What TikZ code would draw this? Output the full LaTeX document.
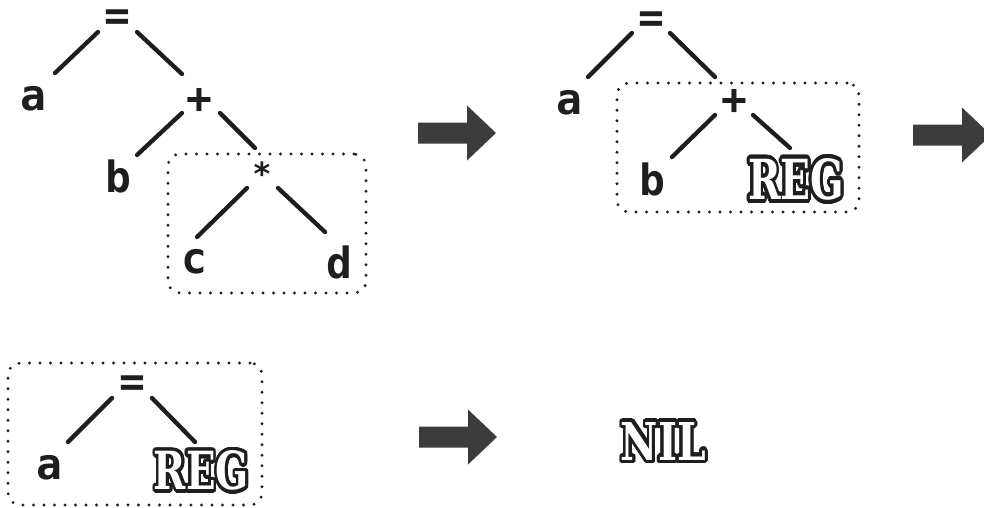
\documentclass[tikz,border=0pt]{standalone}
\usepackage{fontspec}
\usepackage{graphicx}
\usepackage{contour}
\usetikzlibrary{calc}

\newfontfamily\treefont{DejaVu Sans Mono}
\newfontfamily\signfont{DejaVu Serif}

\definecolor{ink}{HTML}{1E1E1E}
\definecolor{arrowgray}{HTML}{3C3C3C}

\contourlength{0.7pt}
\contournumber{24}
% outlined poster-style word squeezed into a fixed box
\newcommand\signword[3]{\resizebox{#1}{#2}{\signfont\bfseries\textcolor{white}{\contour{ink}{#3}}}}

\begin{document}
\begin{tikzpicture}[x=1pt,y=-1pt,
  lbl/.style={inner sep=0pt, text=ink, font=\treefont\bfseries\fontsize{43}{43}\selectfont},
  smalllbl/.style={lbl, font=\treefont\bfseries\fontsize{32}{32}\selectfont},
  sign/.style={inner sep=0pt},
  branch/.style={draw=ink, line width=4.3pt, line cap=round},
  group/.style={draw=ink, line width=3.2pt, line cap=round,
                dash pattern=on 0pt off 10.5pt, rounded corners=12pt, inner sep=0pt},
  bigarrow/.style={fill=arrowgray}
]
\useasboundingbox (0,0) rectangle (984,508);
\clip (0,0) rectangle (984,508);
\fill[white] (0,0) rectangle (984,508);

% ---- stage 1: a = b + c * d
\node[lbl] (eq1)   at (117,20)  {=};
\node[lbl] (a1)    at (33,99)   {a};
\node[lbl] (plus1) at (199,101) {+};
\node[lbl] (b1)    at (118,176) {b};
\node[smalllbl] (star1) at (262,174) {*};
\node[lbl] (c1)    at (194,262) {c};
\node[lbl] (d1)    at (339,262) {d};

\draw[branch] ($(eq1)+(-19,12)$)   -- ($(a1)+(22,-26)$);
\draw[branch] ($(eq1)+(20,12)$)    -- ($(plus1)+(-17,-27)$);
\draw[branch] ($(plus1)+(-17,12)$) -- ($(b1)+(19,-21)$);
\draw[branch] ($(plus1)+(21,12)$)  -- ($(star1)+(-7,-26)$);
\draw[branch] ($(star1)+(-15,14)$) -- ($(c1)+(3,-25)$);
\draw[branch] ($(star1)+(16,14)$)  -- ($(d1)+(-14,-30)$);

\node[group, minimum width=198pt, minimum height=139pt] (g1) at (267,223.5) {};

% ---- stage 2: a = b + REG
\node[lbl] (eq2)   at (651,22)  {=};
\node[lbl] (a2)    at (569,103) {a};
\node[lbl] (plus2) at (734,102) {+};
\node[lbl] (b2)    at (652,179) {b};
\node[sign] (reg2) at (796,181.5) {\signword{96pt}{41pt}{REG}};

\draw[branch] ($(eq2)+(-19,11)$)   -- ($(a2)+(19,-26)$);
\draw[branch] ($(eq2)+(19,11)$)    -- ($(plus2)+(-19,-25)$);
\draw[branch] ($(plus2)+(-19,13)$) -- ($(b2)+(20,-22)$);
\draw[branch] ($(plus2)+(19,13)$)  -- ($(reg2)+(-6,-33.5)$);

\node[group, minimum width=242pt, minimum height=129pt] (g2) at (738,147.5) {};

% ---- stage 3: a = REG
\node[lbl] (eq3)   at (132,386)   {=};
\node[lbl] (a3)    at (49,468)    {a};
\node[sign] (reg3) at (201.5,472.5) {\signword{95pt}{39pt}{REG}};

\draw[branch] ($(eq3)+(-20,12)$) -- ($(a3)+(19,-26)$);
\draw[branch] ($(eq3)+(20,12)$)  -- ($(reg3)+(-6.5,-30.5)$);

\node[group, minimum width=254pt, minimum height=142pt] (g3) at (135,434) {};

% ---- stage 4: nothing left
\node[sign] (nil) at (663.5,443) {\signword{85pt}{38pt}{NIL}};

% ---- transition arrows
\coordinate (t1) at (496,133);
\coordinate (t2) at (991,135);
\coordinate (t3) at (497,437);
\foreach \t in {t1,t2,t3}{
  \fill[bigarrow] (\t) -- ++(-29,-27.5) -- ++(0,17) -- ++(-49,0) -- ++(0,21)
                  -- ++(49,0) -- ++(0,17) -- cycle;
}
\end{tikzpicture}
\end{document}
